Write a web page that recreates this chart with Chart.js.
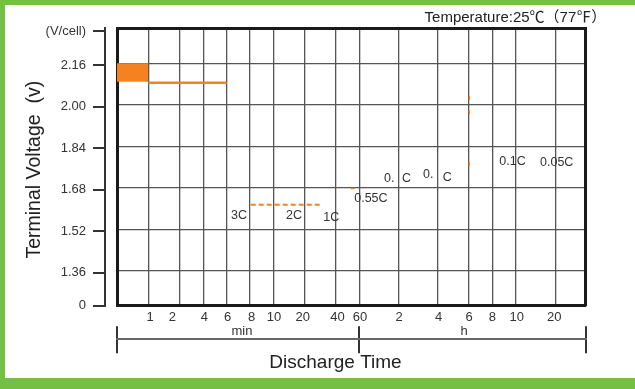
<!DOCTYPE html>
<html><head><meta charset="utf-8">
<script src="https://cdn.jsdelivr.net/npm/chart.js@4.4.1/dist/chart.umd.min.js"></script>
<style>
html,body{margin:0;padding:0;background:#74bf44;}
#wrap{position:relative;width:635px;height:389px;background:#74bf44;overflow:hidden;}
#box{position:absolute;left:5px;top:5px;width:630px;height:373px;background:#fff;}
canvas{display:block;}
</style></head><body>
<div id="wrap"><div id="box"><canvas id="c" width="630" height="373"></canvas></div></div>
<script>
// Discharge-time axis, expressed as position units 0..100 along the (non-uniform) min / h time scale
const timeGridPos   = [6.68, 13.38, 18.41, 23.40, 28.38, 33.35, 39.96, 46.66, 51.78, 60.10, 68.42, 75.04, 80.07, 85.06, 93.60];
const timeTickPos   = [7.04, 11.80, 18.63, 23.62, 28.74, 33.50, 39.64, 47.04, 51.85, 60.17, 68.64, 75.10, 80.07, 85.28, 93.30, 26.67, 74.04];
const timeTickLabels = ['1','2','4','6','8','10','20','40','60','2','4','6','8','10','20',['','min'],['','h']];
const unitBracketPos = [0, 51.70, 100];

// Voltage axis (V/cell)
const voltGrid       = [1.36, 1.52, 1.68, 1.84, 2.00, 2.16];
const voltTickLabels = ['0','1.36','1.52','1.68','1.84','2.00','2.16','(V/cell)'];
const vCellLabelValue = 2.291;

// Series fragments
const blockX = [0, 6.68];        const blockTop = [2.16, 2.16]; const blockBottom = 2.089;
const plateauX = [6.68, 23.40];  const plateauY = [2.085, 2.085];
const dashedX = [28.53, 43.89];  const dashedY = [1.615, 1.615];
const fragX = [49.93, 50.67, 50.67, 75.17, 75.17, 75.17, 75.17, 75.17, 75.17, 75.17, 75.17];
const fragY = [1.678, 1.678, null, 2.034, 2.019, null, 1.978, 1.965, null, 1.779, 1.764];

// Rate labels
const rateLabels = ['3C','2C','1C','0.55C','0.','C','0.','C','0.1C','0.05C'];
const rateLabelX = [26.03, 37.76, 45.72, 54.17, 58.10, 61.77, 66.42, 70.45, 84.38, 93.81];
const rateLabelY = [1.5718, 1.5718, 1.5668, 1.640, 1.7155, 1.7155, 1.7324, 1.7193, 1.781, 1.778];

const ORANGE = '#f5821f';
const GRID = '#555';
const FRAME = '#1a1a1a';
const FONT = "'Liberation Sans', Arial, 'Noto Sans CJK SC', sans-serif";
const pts = (xs, ys) => xs.map((x, i) => ({x, y: ys[i]}));

const labelPlugin = {
  id: 'rateLabels',
  afterDatasetsDraw(chart) {
    const {ctx, scales: {x, y}} = chart;
    ctx.save();
    ctx.font = `12.5px ${FONT}`;
    ctx.fillStyle = '#333';
    ctx.textAlign = 'center';
    ctx.textBaseline = 'middle';
    rateLabels.forEach((t, i) => ctx.fillText(t, x.getPixelForValue(rateLabelX[i]), y.getPixelForValue(rateLabelY[i])));
    ctx.restore();
  }
};

const hidden = {display: false};
new Chart(document.getElementById('c'), {
  type: 'line',
  data: {
    datasets: [
      {data: pts(blockX, blockTop), borderWidth: 0, pointRadius: 0, fill: {value: blockBottom}, backgroundColor: ORANGE},
      {data: pts(plateauX, plateauY), borderColor: ORANGE, borderWidth: 2.5, pointRadius: 0, fill: false},
      {data: pts(dashedX, dashedY), borderColor: ORANGE, borderWidth: 2, borderDash: [5, 3], pointRadius: 0, fill: false},
      {data: pts(fragX, fragY), borderColor: ORANGE, borderWidth: 1.5, pointRadius: 0, fill: false, spanGaps: false}
    ]
  },
  options: {
    responsive: false,
    animation: false,
    layout: {padding: {left: 0, right: 28.7, top: 0, bottom: 0}},
    plugins: {
      legend: hidden,
      tooltip: {enabled: false},
      title: {display: true, text: 'Temperature:25℃（77℉）', align: 'end', color: '#222',
              font: {family: FONT, size: 15, weight: 'normal'}, padding: {top: 3.4, bottom: 1.9}}
    },
    scales: {
      x: {type: 'linear', position: 'bottom', min: 0, max: 100, weight: 0,
          afterBuildTicks: s => { s.ticks = timeGridPos.map(v => ({value: v})); },
          afterFit: s => { s.height = 0; },
          ticks: {display: false},
          grid: {color: GRID, lineWidth: 1.3, drawTicks: false},
          border: {display: true, color: FRAME, width: 3}},
      xl: {type: 'linear', position: 'bottom', min: 0, max: 100, weight: 1,
          afterBuildTicks: s => { s.ticks = timeTickPos.map(v => ({value: v})); },
          afterFit: s => { s.height = 33.6; },
          ticks: {autoSkip: false, maxRotation: 0, minRotation: 0, padding: 4.65, color: '#333',
                  font: {family: FONT, size: 13, lineHeight: 1.1}, callback: (v, i) => timeTickLabels[i]},
          grid: {display: false, drawTicks: false, tickLength: 0}, border: {display: false}},
      xbUp: {type: 'linear', position: 'bottom', min: 0, max: 100, weight: 2,
          afterBuildTicks: s => { s.ticks = unitBracketPos.map(v => ({value: v})); },
          afterFit: s => { s.height = 0; },
          ticks: {display: false},
          grid: {display: true, drawOnChartArea: false, drawTicks: true, tickLength: -13, color: '#333', lineWidth: 2},
          border: {display: false}},
      xbDown: {type: 'linear', position: 'bottom', min: 0, max: 100, weight: 3,
          afterBuildTicks: s => { s.ticks = unitBracketPos.map(v => ({value: v})); },
          afterFit: s => { s.height = 38.7; },
          ticks: {display: false},
          grid: {display: true, drawOnChartArea: false, drawTicks: true, tickLength: 14, color: '#333', lineWidth: 2},
          border: {display: true, color: '#666', width: 2},
          title: {display: true, text: 'Discharge Time      ', color: '#222',
                  font: {family: FONT, size: 19}, padding: {top: 0, bottom: 4.3}}},
      xTop: {type: 'linear', position: 'top', min: 0, max: 100,
          afterFit: s => { s.height = 0; },
          ticks: {display: false}, grid: {display: false},
          border: {display: true, color: FRAME, width: 3}},
      y: {type: 'linear', position: 'left', min: 1.2263, max: 2.2948, weight: 0, z: 1,
          afterBuildTicks: s => { s.ticks = voltGrid.map(v => ({value: v})); },
          afterFit: s => { s.width = 12; },
          ticks: {display: false},
          grid: {color: GRID, lineWidth: 1.3, drawTicks: false},
          border: {display: true, color: FRAME, width: 3}},
      yOuter: {type: 'linear', position: 'left', min: 1.2328, max: 2.3013, weight: 1,
          afterBuildTicks: s => { s.ticks = [s.min, ...voltGrid, vCellLabelValue].map(v => ({value: v})); },
          afterFit: s => { s.width = 100; },
          ticks: {color: '#333', font: {family: FONT, size: 13}, padding: 7, callback: (v, i) => voltTickLabels[i]},
          grid: {display: true, drawOnChartArea: false, drawTicks: true, tickLength: 12, color: '#333', lineWidth: 2},
          border: {display: true, color: '#333', width: 2},
          title: {display: true, text: 'Terminal Voltage  (v) ', color: '#222',
                  font: {family: FONT, size: 19.5}, padding: {top: 18, bottom: 0}}},
      yR: {type: 'linear', position: 'right', min: 0, max: 1,
          afterFit: s => { s.width = 20.6; },
          ticks: {display: false}, grid: {display: false},
          border: {display: true, color: FRAME, width: 3}}
    }
  },
  plugins: [labelPlugin]
});
</script>
</body></html>
